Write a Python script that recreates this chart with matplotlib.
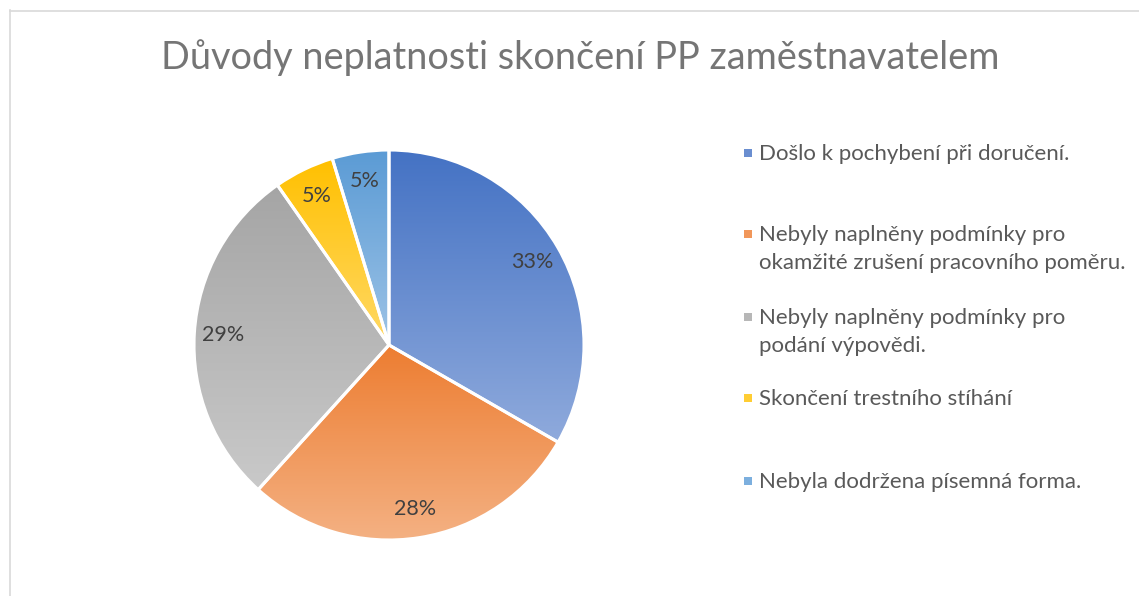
import numpy as np
import matplotlib
matplotlib.use("Agg")
import matplotlib.pyplot as plt
from matplotlib.colors import to_rgb
from matplotlib.lines import Line2D
from matplotlib.patches import Rectangle

plt.rcParams['font.family'] = ['Lato', 'DejaVu Sans']

# Data #
title = "Důvody neplatnosti skončení PP zaměstnavatelem"
labels = [
    "Došlo k pochybení při doručení.",
    "Nebyly naplněny podmínky pro\nokamžité zrušení pracovního poměru.",
    "Nebyly naplněny podmínky pro\npodání výpovědi.",
    "Skončení trestního stíhání",
    "Nebyla dodržena písemná forma.",
]
shares = [33.3, 28.4, 28.6, 5.0, 4.7]  # labels round to 33/28/29/5/5
top_colors = ["#4472C4", "#ED7D31", "#A5A5A5", "#FFC000", "#5B9BD5"]
bottom_colors = ["#8FAADC", "#F4B183", "#C9C9C9", "#FFD966", "#9DC3E6"]

W, H = 1139, 596
fig = plt.figure(figsize=(W / 100, H / 100), dpi=100)

# chart frame (light border on top and left)
fig.add_artist(Line2D([9.5 / W, 9.5 / W], [0, 1 - 10 / H], color="#D9D9D9", lw=1.2))
fig.add_artist(Line2D([9.5 / W, 1], [1 - 10.5 / H, 1 - 10.5 / H], color="#D9D9D9", lw=1.2))

fig.text(580 / W, 1 - 58 / H, title, ha="center", va="center", fontsize=27.3, color="#757575")

# pie
cx, cy, r = 389, 345, 195
ax = fig.add_axes([(cx - r) / W, (H - cy - r) / H, 2 * r / W, 2 * r / H])
wedges, texts, autotexts = ax.pie(
    shares, startangle=90, counterclock=False, radius=1,
    autopct=lambda p: f"{p:.0f}%", pctdistance=0.85,
    wedgeprops=dict(edgecolor="white", linewidth=2.2),
    textprops=dict(fontsize=15.5, color="#404040"),
)

# vertical gradient fill per slice
for w, c0, c1 in zip(wedges, top_colors, bottom_colors):
    ext = w.get_path().get_extents()
    grad = np.linspace(0, 1, 256)[:, None, None]
    img = (1 - grad) * np.array(to_rgb(c0)) + grad * np.array(to_rgb(c1))
    im = ax.imshow(img, extent=(ext.x0, ext.x1, ext.y0, ext.y1), origin="upper",
                   aspect="auto", zorder=1, interpolation="bilinear")
    im.set_clip_path(w)
    w.set_facecolor("none")
    w.set_zorder(2)
for t in autotexts:
    t.set_zorder(3)

ax.set_xlim(-1.0, 1.0)
ax.set_ylim(-1.0, 1.0)
ax.set_aspect("equal")
ax.axis("off")

# legend
legend_y = [153, 234, 317, 398, 481]
mid_colors = [tuple((np.array(to_rgb(a)) + np.array(to_rgb(b))) / 2)
              for a, b in zip(top_colors, bottom_colors)]
for lab, y, col in zip(labels, legend_y, mid_colors):
    fig.add_artist(Rectangle((744 / W, 1 - (y + 4) / H), 8 / W, 8 / H,
                             transform=fig.transFigure, color=col, lw=0))
    fig.text(759 / W, 1 - (y - 9) / H, lab, ha="left", va="top", fontsize=16,
             color="#595959", linespacing=1.5)

plt.savefig("out.png", dpi=100)
